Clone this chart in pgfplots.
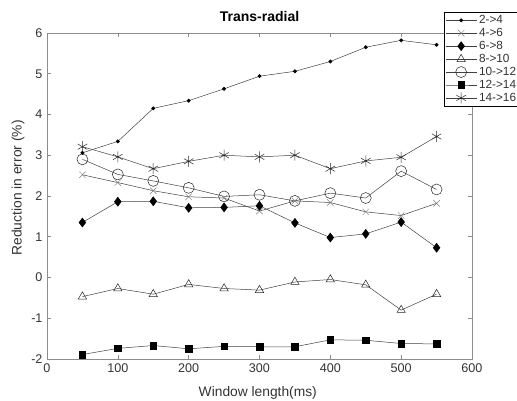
\documentclass[border=0pt]{standalone}
\usepackage{fontspec}
\setmainfont{Liberation Sans}
\usepackage{pgfplots}
\pgfplotsset{compat=1.18}
\definecolor{axgray}{gray}{0.55}
\definecolor{txtgray}{gray}{0.2}
\definecolor{lngray}{gray}{0.25}
\begin{document}
\begin{tikzpicture}
\begin{axis}[
  name=ax,
  scale only axis,
  width=425pt, height=326pt,
  xmin=0, xmax=600, ymin=-2, ymax=6,
  xtick={0,100,...,600}, ytick={-2,-1,...,6},
  tick align=inside,
  major tick length=4pt,
  axis line style={axgray, line width=0.6pt},
  every tick/.style={axgray, line width=0.6pt},
  /pgf/number format/assume math mode=true,
  tick label style={font=\fontsize{12.6}{14}\selectfont, text=txtgray},
  xticklabel style={yshift=-1pt},
  yticklabel style={xshift=-1pt},
  xlabel={Window length(ms)},
  ylabel={Reduction in error (\%)},
  label style={font=\fontsize{13.8}{15}\selectfont, text=txtgray},
  xlabel style={at={(axis description cs:0.496,-0.104)}, anchor=center},
  ylabel style={at={(axis description cs:-0.068,0.525)}, anchor=center},
  title={\textbf{Trans-radial}},
  title style={font=\fontsize{14}{16}\selectfont, at={(axis description cs:0.5,1.031)}, anchor=center},
  legend style={at={(0.934,1.064)}, anchor=north west, draw=black, line width=0.6pt,
    font=\fontsize{11.8}{13}\selectfont, text=txtgray, inner sep=1pt, row sep=-0.8pt,
    fill=white},
  legend cell align=left,
  legend image code/.code={\draw[mark repeat=2,mark phase=2] plot coordinates {(0cm,0cm) (0.55cm,0cm) (1.1cm,0cm)};},
  every axis plot/.append style={lngray, line width=0.5pt},
]
\addplot[mark=*, mark size=1.7pt, mark options={black}] coordinates {
(50,3.06) (100,3.34) (150,4.15) (200,4.34) (250,4.63) (300,4.94) (350,5.06) (400,5.30) (450,5.65) (500,5.82) (550,5.71)};
\addlegendentry{2->4}
\addplot[mark=x, mark size=4.5pt, mark options={gray}] coordinates {
(50,2.52) (100,2.33) (150,2.13) (200,1.98) (250,1.95) (300,1.63) (350,1.88) (400,1.84) (450,1.61) (500,1.52) (550,1.82)};
\addlegendentry{4->6}
\addplot[mark=diamond*, mark size=4.5pt, mark options={black, fill=black}] coordinates {
(50,1.35) (100,1.86) (150,1.87) (200,1.71) (250,1.72) (300,1.76) (350,1.34) (400,0.98) (450,1.07) (500,1.36) (550,0.73)};
\addlegendentry{6->8}
\addplot[mark=triangle, mark size=4.8pt, mark options={black!85}] coordinates {
(50,-0.47) (100,-0.27) (150,-0.41) (200,-0.17) (250,-0.27) (300,-0.31) (350,-0.11) (400,-0.05) (450,-0.18) (500,-0.80) (550,-0.41)};
\addlegendentry{8->10}
\addplot[mark=o, mark size=5.5pt, mark options={black!85}] coordinates {
(50,2.90) (100,2.53) (150,2.37) (200,2.20) (250,1.99) (300,2.03) (350,1.88) (400,2.07) (450,1.95) (500,2.61) (550,2.16)};
\addlegendentry{10->12}
\addplot[mark=square*, mark size=3.3pt, mark options={black, fill=black}] coordinates {
(50,-1.89) (100,-1.74) (150,-1.67) (200,-1.75) (250,-1.69) (300,-1.70) (350,-1.70) (400,-1.53) (450,-1.54) (500,-1.62) (550,-1.63)};
\addlegendentry{12->14}
\addplot[mark=asterisk, mark size=5.5pt, mark options={black!85}] coordinates {
(50,3.21) (100,2.96) (150,2.67) (200,2.85) (250,3.00) (300,2.96) (350,3.00) (400,2.67) (450,2.86) (500,2.95) (550,3.46)};
\addlegendentry{14->16}
\end{axis}
\pgfresetboundingbox
\path[use as bounding box] ([shift={(-47pt,-42pt)}]ax.south west) rectangle ([shift={(45pt,33pt)}]ax.north east);
\end{tikzpicture}
\end{document}
